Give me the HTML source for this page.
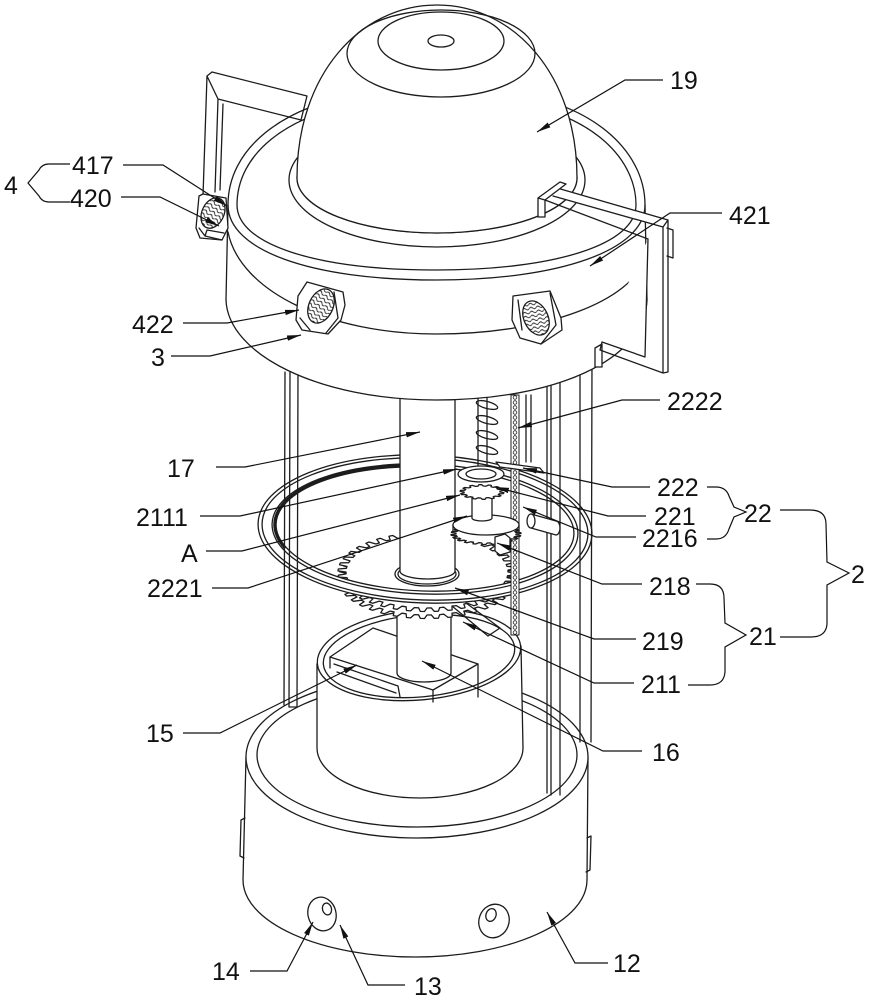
<!DOCTYPE html>
<html><head><meta charset="utf-8">
<style>
html,body{margin:0;padding:0;background:#fff;}
svg{display:block;}
text{font-family:"Liberation Sans",Arial,sans-serif;font-size:25px;fill:#111;stroke:none;}
</style></head><body>
<svg width="870" height="1000" viewBox="0 0 870 1000" xmlns="http://www.w3.org/2000/svg">
<defs>
<marker id="ar" viewBox="0 0 14 6" refX="14" refY="3" markerWidth="14" markerHeight="6" orient="auto" markerUnits="userSpaceOnUse"><path d="M0,0.3 L14,3 L0,5.7 z" fill="#111" stroke="none"/></marker>
<pattern id="wv" width="7" height="4" patternUnits="userSpaceOnUse" patternTransform="rotate(15)"><rect width="7" height="4" fill="#fff"/><path d="M0,2 Q1.75,0 3.5,2 T7,2" fill="none" stroke="#222" stroke-width="0.9"/></pattern>
<pattern id="ch" x="512" y="395" width="8" height="5" patternUnits="userSpaceOnUse"><rect width="8" height="5" fill="#fff"/><circle cx="3" cy="2.5" r="1.8" fill="none" stroke="#222" stroke-width="0.8"/></pattern>
</defs>
<g fill="none" stroke="#1c1c1c" stroke-width="1.3" stroke-linejoin="round" stroke-linecap="round">

<!-- BASE -->
<path d="M246,757 L243,880 A172,77 0 0 0 587,880 L588,757" fill="#fff"/>
<ellipse cx="417" cy="757" rx="171" ry="81" fill="#fff"/>
<ellipse cx="417" cy="755" rx="160" ry="72"/>
<path d="M245,818 L241,820 L240,856 L244,858"/>
<path d="M587,838 L591,836 L590,870 L586,872"/>
<ellipse cx="322" cy="914" rx="14" ry="17" transform="rotate(-15 322 914)"/>
<ellipse cx="327" cy="909" rx="4.5" ry="6" transform="rotate(-15 327 909)"/>
<ellipse cx="494" cy="921" rx="15" ry="17" transform="rotate(20 494 921)"/>
<ellipse cx="491" cy="915" rx="5" ry="6.5" transform="rotate(20 491 915)"/>

<!-- POT -->
<path d="M317,664 L317,748 A103,50 0 0 0 523,748 L521,646" fill="#fff"/>
<ellipse cx="419" cy="655" rx="102" ry="45" transform="rotate(-5 419 655)" fill="#fff"/>
<ellipse cx="419" cy="656" rx="96" ry="41" transform="rotate(-5 419 656)"/>
<!-- block -->
<path d="M330,657 L373,628 L478,664 L433,690 Z" fill="#fff"/>
<path d="M433,690 L433,702 M478,664 L478,697 M330,657 L330,668"/>
<path d="M334,664 L398,686 L400,697 M337,672 L396,693"/>
<!-- lower shaft -->
<path d="M397,598 L397,673 A27,9 0 0 0 451,673 L451,598" fill="#fff"/>

<!-- BIG GEAR -->
<path id="g1b" d="M338,579 A89,39 0 1 0 516,579 A89,39 0 1 0 338,579Z" fill="#fff"/>
<path id="g1t" d="M338,572 A89,39 0 1 0 516,572 A89,39 0 1 0 338,572Z" fill="#fff"/>

<!-- RING -->
<g transform="rotate(2 425 529)">
<ellipse cx="425" cy="529" rx="158" ry="68" stroke="#fff" stroke-width="13"/>
<ellipse cx="425" cy="529" rx="167" ry="74"/>
<ellipse cx="425" cy="529" rx="163" ry="71"/>
<ellipse cx="425" cy="529" rx="153" ry="65"/>
<ellipse cx="425" cy="529" rx="149" ry="62"/>
<path d="M285,552 A151,63.5 0 0 1 405,466" stroke-width="3" stroke-dasharray="0.8 1.6"/>
</g>

<!-- RODS -->
<path d="M285,372 L284,705 M290,372 L289,707 M298,372 L297,707 M289,707 L297,707"/>
<path d="M547,380 L547,793 M551,380 L551,795 M560,380 L560,795"/>
<path d="M580,360 L580,742 M592,360 L591,742"/>

<!-- CENTRAL SHAFT -->
<ellipse cx="427" cy="574" rx="32" ry="12" fill="#fff"/>
<ellipse cx="427" cy="574" rx="29" ry="10"/>
<path d="M400,380 L400,571 A27.5,8 0 0 0 455,571 L455,380" fill="#fff"/>

<!-- MECHANISM -->
<rect x="511" y="395" width="8" height="240" fill="url(#ch)" stroke-width="1"/>
<path d="M526,395 L526,462 M531,395 L531,462"/>
<path d="M478,395 L478,470 M487,395 L487,470"/>
<ellipse cx="487" cy="405" rx="11" ry="3.5" transform="rotate(15 487 405)"/>
<ellipse cx="487" cy="420" rx="11" ry="3.5" transform="rotate(15 487 420)"/>
<ellipse cx="487" cy="435" rx="11" ry="3.5" transform="rotate(15 487 435)"/>
<ellipse cx="487" cy="450" rx="11" ry="3.5" transform="rotate(15 487 450)"/>
<path id="g2" d="M456,534 A30,9 0 1 0 516,534 A30,9 0 1 0 456,534Z" fill="#fff"/>
<path d="M453,525 L453,532 M519,525 L519,532"/>
<ellipse cx="486" cy="525" rx="33" ry="10" fill="#fff"/>
<path d="M472,497 L472,518 A10,3 0 0 0 492,518 L492,497" fill="#fff"/>
<path id="g3" d="M464,492 A18,6 0 1 0 500,492 A18,6 0 1 0 464,492Z" fill="#fff"/>
<ellipse cx="481" cy="474" rx="23" ry="8" fill="#fff"/>
<ellipse cx="481" cy="474" rx="15" ry="5"/>
<path d="M496,462 L540,468 L544,473 L500,467 Z" fill="#fff"/>
<path d="M531,514 L556,521 A4,7 0 0 1 556,535 L531,528" fill="#fff"/>
<ellipse cx="531" cy="521" rx="4" ry="7" fill="#fff"/>
<path d="M495,537 L505,534 L510,538 L510,552 L500,555 L495,551 Z" fill="#fff"/>
<path d="M452,606 L488,636 M466,603 L500,628 M488,636 L500,628"/>

<!-- TOP HOUSING -->
<path d="M228,205 L226,300 C228,355 320,400 436,400 C555,400 645,360 647,300 L645,205 Z" fill="#fff" stroke="none"/>
<path d="M228,205 C228,150 280,105 370,92 L500,92 C590,100 645,150 645,205 C645,250 560,280 436,280 C310,280 228,250 228,205 Z" fill="#fff"/>
<path d="M237,205 C237,155 285,113 372,101 L500,101 C585,109 636,155 636,205 C636,244 556,270 436,270 C315,270 237,244 237,205 Z"/>
<ellipse cx="437" cy="180" rx="148" ry="67"/>
<ellipse cx="437" cy="178" rx="140" ry="55"/>
<path d="M228,232 C240,292 330,334 436,334 C548,334 632,300 645,258"/>
<path d="M228,205 L226,300 M645,205 L647,300"/>
<path d="M226,300 C228,355 320,400 436,400 C555,400 645,360 647,300"/>

<!-- DOME -->
<path d="M297,178 C297,75 360,5 437,5 C514,5 577,75 577,178 A140,55 0 0 1 297,178 Z" fill="#fff"/>
<ellipse cx="441" cy="53.5" rx="94" ry="43.5"/>
<ellipse cx="441" cy="41" rx="63" ry="29"/>
<ellipse cx="441" cy="41" rx="13" ry="6"/>

<!-- LEFT BRACKET -->
<path d="M212,72 L307,96 L301,120 M207,76 L212,72 M207,76 L218,99 L301,120 M207,76 L203,196 M218,99 L215,192 M223,104 L220,190"/>
<path d="M199,196 L203,194 L226,198 L228,228 L222,240 L200,238 L196,228 Z" fill="#fff"/>
<ellipse cx="213" cy="213" rx="11" ry="16" transform="rotate(25 213 213)" fill="url(#wv)"/>
<path d="M199,228 L205,236 L222,240 M205,236 L207,230 L224,233"/>

<!-- RIGHT BRACKET -->
<path d="M557,188 L668,220 L663,227 L553,196 M545,200 L648,239 M668,220 L668,372 L663,373 L663,227 M648,239 L645,357 L602,342 M663,373 L600,350 M602,342 L600,350 M595,348 L595,367 L602,367 L602,344 L595,348" fill="#fff"/>
<path d="M538,198 L538,217 L545,217 L545,200 L538,198 M538,198 L560,182 L566,184 L545,200" fill="#fff"/>
<path d="M667,228 L673,230 L673,258 L667,256"/>

<!-- ROLLERS -->
<path d="M307,282 L343,292 L345,305 L341,320 L328,334 L302,330 L296,320 L298,296 Z" fill="#fff"/>
<ellipse cx="321" cy="306" rx="12" ry="18" transform="rotate(25 321 306)" fill="url(#wv)"/>
<path d="M334,292 L338,318 L326,333 M300,318 L310,330"/>
<path d="M513,296 L550,291 L561,318 L562,330 L541,344 L520,338 L512,320 Z" fill="#fff"/>
<ellipse cx="536" cy="318" rx="12" ry="18" transform="rotate(-25 536 318)" fill="url(#wv)"/>
<path d="M518,300 L522,330 M550,293 L556,325 L541,344"/>
</g>

<!-- LEADERS -->
<g fill="none" stroke="#111" stroke-width="1.2" marker-end="url(#ar)">
<path d="M663,80 L625,80 L537,132"/>
<path d="M722,213 L670,213 L590,266"/>
<path d="M123,165 L163,165 L227,206"/>
<path d="M121,197 L160,197 L219,226"/>
<path d="M183,323 L227,323 L299,310"/>
<path d="M171,356 L210,356 L301,335"/>
<path d="M660,400 L622,400 L518,428"/>
<path d="M216,467 L245,467 L420,432"/>
<path d="M200,516 L240,516 L457,469"/>
<path d="M206,551 L242,551 L460,495"/>
<path d="M212,588 L248,588 L467,516"/>
<path d="M183,733 L220,733 L357,665"/>
<path d="M650,487 L612,487 L523,468"/>
<path d="M646,516 L608,516 L495,487"/>
<path d="M636,537 L596,537 L523,507"/>
<path d="M642,584 L602,584 L497,543"/>
<path d="M636,639 L594,639 L455,588"/>
<path d="M634,683 L594,683 L463,622"/>
<path d="M642,751 L603,751 L422,661"/>
<path d="M608,963 L575,963 L547,912"/>
<path d="M250,971 L287,971 L313,922"/>
<path d="M405,985 L368,985 L340,925"/>
</g>
<!-- BRACES -->
<g fill="none" stroke="#111" stroke-width="1.2">
<path d="M70,164 L49,164 Q42,164 39,170 L28,183 L39,196 Q42,202 49,202 L70,202"/>
<path d="M707,487 L716,487 Q726,487 729,496 L734,507 L746,512 L734,517 L729,529 Q726,539 716,539 L707,539"/>
<path d="M780,510 L810,510 Q826,510 826,524 L827,562 L849,573 L827,585 L827,624 Q826,637 811,637 L780,637"/>
<path d="M696,584 L710,584 Q724,584 724,598 L725,623 L746,635 L725,647 L725,672 Q724,685 710,685 L688,685"/>
</g>

<!-- LABELS -->
<text x="670" y="89">19</text>
<text x="729" y="224">421</text>
<text x="72" y="174">417</text>
<text x="70" y="207">420</text>
<text x="4" y="194">4</text>
<text x="132" y="333">422</text>
<text x="151" y="366">3</text>
<text x="667" y="410">2222</text>
<text x="167" y="477">17</text>
<text x="136" y="526">2111</text>
<text x="181" y="562">A</text>
<text x="147" y="597">2221</text>
<text x="146" y="742">15</text>
<text x="657" y="496">222</text>
<text x="654" y="525">221</text>
<text x="642" y="547">2216</text>
<text x="744" y="522">22</text>
<text x="851" y="583">2</text>
<text x="649" y="595">218</text>
<text x="642" y="650">219</text>
<text x="641" y="693">211</text>
<text x="749" y="645">21</text>
<text x="652" y="761">16</text>
<text x="613" y="972">12</text>
<text x="212" y="980">14</text>
<text x="414" y="995">13</text>
</svg>
<script>
function gp(cx,cy,rx,ry,n,h,off){
 var d='',k=h/rx,s=2*Math.PI/n;
 for(var i=0;i<n;i++){var a=i*s+(off||0);
  var P=[[a,0],[a+s*.18,k],[a+s*.48,k],[a+s*.66,0]];
  for(var j=0;j<4;j++){var t=P[j][0],q=1+P[j][1];
   d+=(d?'L':'M')+(cx+rx*q*Math.cos(t)).toFixed(1)+','+(cy+ry*q*Math.sin(t)).toFixed(1);}}
 return d+'Z';}
try{
document.getElementById('g1b').setAttribute('d',gp(427,579,81,36,40,8,0));
document.getElementById('g1t').setAttribute('d',gp(427,572,81,36,40,8,0));
document.getElementById('g2').setAttribute('d',gp(486,534,30,9,22,5,0.1));
document.getElementById('g3').setAttribute('d',gp(482,492,18,6,14,4,0));
}catch(e){}
</script>
</body></html>
